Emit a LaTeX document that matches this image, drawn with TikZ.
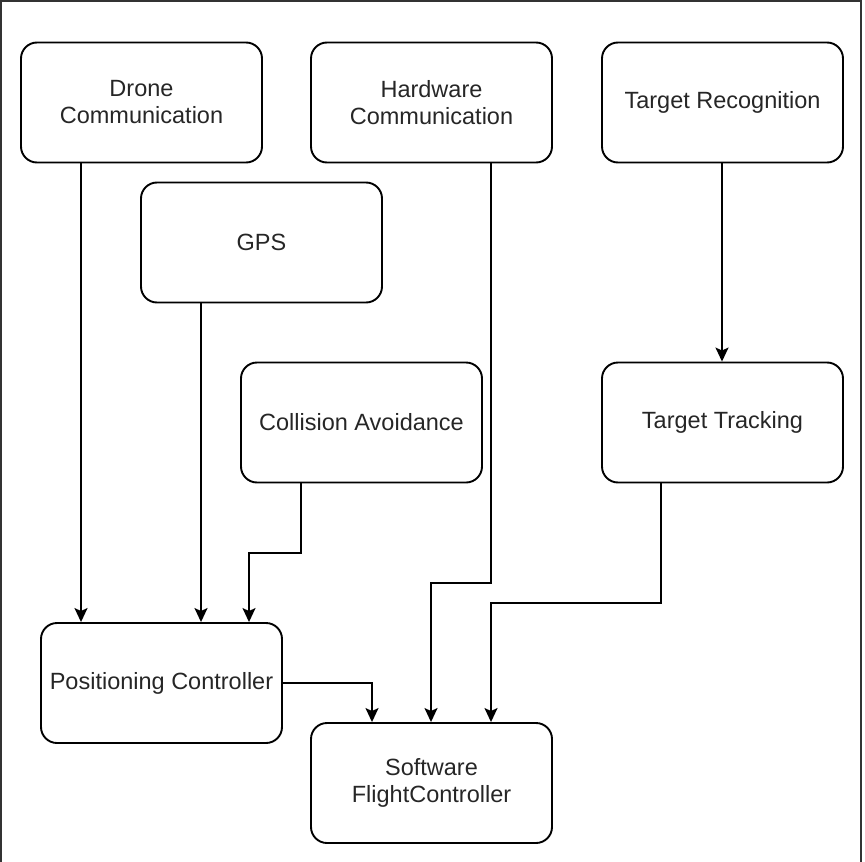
\documentclass[tikz,border=0pt]{standalone}
\usepackage{fontspec}
\setmainfont{Liberation Sans}
\usetikzlibrary{arrows.meta}
\begin{document}
\begin{tikzpicture}[x=1pt,y=-1pt,
  box/.style={draw=black, line width=1.9pt, rounded corners=16pt, minimum width=241pt, minimum height=120pt, inner sep=0pt, align=center, font=\fontsize{23.5}{27}\selectfont, text=black!85},
  conn/.style={draw=black, line width=1.9pt, -{Stealth[length=14pt,width=13pt,inset=3pt]}}]
\useasboundingbox (0,0) rectangle (865,862);
\draw[line width=1.8pt, black!80] (1,862) -- (1,1) -- (861,1) -- (861,862);
\node[box] (dc) at (141.5,102.5) {Drone\\Communication};
\node[box] (hc) at (431.5,102.5) {Hardware\\Communication};
\node[box] (tr) at (722.5,102.5) {Target Recognition};
\node[box] (gps) at (261.5,242.5) {GPS};
\node[box] (ca) at (361.5,422.5) {Collision Avoidance};
\node[box] (tt) at (722.5,422.5) {Target Tracking};
\node[box] (pc) at (161.5,683) {Positioning Controller};
\node[box] (sfc) at (431.5,783) {Software\\FlightController};
\coordinate (c1) at (301,553);
\coordinate (c2) at (249,553);
\coordinate (h1) at (491,583);
\coordinate (h2) at (431,583);
\coordinate (t1) at (661,603);
\coordinate (t2) at (491,603);
\coordinate (p1) at (372,683);
\coordinate (r1) at (722,0);
\draw[conn] (dc.south -| 81,0) -- (pc.north -| 81,0);
\draw[conn] (gps.south -| 201,0) -- (pc.north -| 201,0);
\draw[conn] (ca.south -| c1) -- (c1) -- (c2) -- (pc.north -| c2);
\draw[conn] (hc.south -| h1) -- (h1) -- (h2) -- (sfc.north -| h2);
\draw[conn] (tt.south -| t1) -- (t1) -- (t2) -- (sfc.north -| t2);
\draw[conn] (pc.east) -- (p1) -- (sfc.north -| p1);
\draw[conn] (tr.south -| r1) -- (tt.north -| r1);
\end{tikzpicture}
\end{document}
